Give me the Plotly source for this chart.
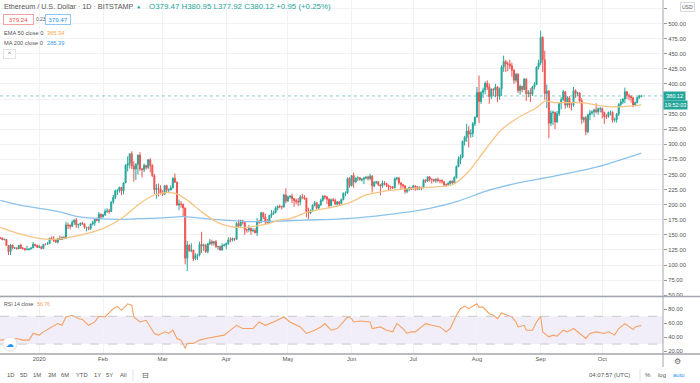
import plotly.graph_objects as go
import pandas as pd

# ---------------- data ----------------
first_date = "2019-12-13"
first_open = 145.0

close = [
    # Dec 2019 (13-31)
    144.8, 141.8, 142.5, 132.5, 122.0, 133.0, 128.3, 128.4, 126.9, 132.6, 127.8, 127.5, 125.3, 125.8, 126.4, 128.3, 134.5, 132.2, 129.2,
    # Jan
    130.7, 127.2, 134.3, 134.2, 135.3, 144.4, 142.9, 140.9, 137.9, 144.2, 142.4, 146.4, 144.0, 166.3, 165.4, 164.0, 170.9, 174.2, 166.6, 166.8,
    169.3, 168.2, 162.1, 162.4, 160.7, 168.0, 170.0, 175.5, 173.8, 184.0, 179.9,
    # Feb
    183.3, 188.6, 189.6, 188.7, 204.6, 212.3, 223.0, 223.1, 228.7, 223.0, 236.0, 265.1, 268.0, 284.3, 264.0, 258.9, 267.0, 282.1, 259.2, 258.0,
    265.2, 261.6, 274.4, 265.1, 248.0, 224.9, 227.0, 226.6, 218.3,
    # Mar
    217.3, 231.5, 224.1, 224.3, 228.1, 243.9, 237.3, 199.5, 201.0, 200.4, 194.6, 111.3, 133.0, 123.6, 124.8, 110.5, 115.6, 117.0, 134.4, 131.9,
    132.4, 122.3, 135.0, 138.4, 136.1, 138.5, 130.6, 130.7, 124.8, 132.2, 133.2,
    # Apr
    135.9, 141.5, 141.3, 143.9, 142.5, 169.0, 164.5, 173.3, 170.6, 158.2, 158.2, 160.9, 156.6, 157.3, 153.5, 171.4, 171.0, 186.6, 179.6, 171.4,
    170.3, 182.1, 184.7, 187.0, 194.3, 197.0, 196.7, 196.2, 216.1, 206.2,
    # May
    212.5, 213.9, 210.0, 206.9, 205.3, 204.3, 212.5, 212.1, 210.8, 188.3, 186.0, 190.2, 199.0, 203.2, 194.2, 199.5, 207.2, 214.0, 213.0, 209.0,
    198.2, 208.0, 207.0, 201.0, 204.5, 201.6, 208.5, 219.0, 219.0, 243.5, 231.5,
    # Jun
    248.0, 237.5, 244.0, 244.5, 241.0, 242.0, 244.0, 245.5, 243.3, 247.0, 231.0, 237.0, 238.0, 233.0, 231.0, 236.0, 235.0, 232.0, 229.0, 229.0,
    228.0, 243.0, 244.0, 236.0, 233.0, 231.0, 222.0, 226.0, 228.0, 226.0,
    # Jul
    231.0, 230.0, 225.5, 229.0, 228.0, 241.0, 239.0, 246.0, 242.0, 242.0, 240.0, 242.0, 240.0, 240.0, 238.0, 233.0, 233.0, 235.0, 239.0, 236.0,
    245.0, 263.0, 275.0, 279.0, 305.0, 311.0, 322.0, 317.0, 318.0, 334.0, 345.0,
    # Aug
    386.0, 371.0, 386.0, 390.0, 401.0, 395.0, 379.0, 391.0, 390.0, 395.0, 380.0, 392.0, 428.0, 437.0, 433.0, 433.0, 430.0, 423.0, 406.0, 416.0,
    389.0, 396.0, 391.0, 408.0, 384.0, 386.0, 383.0, 395.0, 399.0, 428.0, 435.0,
    # Sep
    477.0, 440.0, 384.0, 388.0, 335.0, 352.0, 353.0, 337.0, 351.0, 368.0, 374.0, 387.0, 365.0, 377.0, 365.0, 365.0, 389.0, 384.0, 385.0, 372.0,
    341.0, 344.0, 321.0, 349.0, 352.0, 354.0, 357.0, 354.0, 359.0, 359.0,
    # Oct
    353.0, 346.0, 346.0, 353.0, 353.0, 340.0, 341.0, 350.0, 366.0, 370.0, 375.0, 387.0, 381.0, 379.0, 377.0, 365.0, 369.0, 377.5, 379.47, 380.12,
]

high = [
    146.0, 145.5, 143.5, 142.8, 133.0, 135.0, 133.1, 129.5, 128.7, 133.0, 135.2, 129.5, 127.8, 132.0, 127.9, 129.5, 138.0, 134.7, 133.5,
    132.8, 130.9, 134.5, 135.9, 138.3, 145.0, 147.2, 148.1, 141.8, 144.7, 149.0, 146.5, 147.5, 171.7, 170.0, 167.5, 174.0, 176.0, 178.0, 168.5,
    170.5, 171.4, 168.2, 163.0, 163.5, 168.3, 173.5, 176.3, 178.5, 188.0, 185.5,
    185.0, 193.2, 194.0, 193.0, 205.0, 216.0, 224.7, 226.3, 229.6, 229.0, 237.0, 267.0, 280.0, 285.0, 288.4, 272.0, 268.5, 283.0, 287.0, 261.0,
    268.0, 265.0, 275.0, 277.0, 267.0, 251.0, 234.0, 235.0, 232.0,
    224.0, 232.0, 233.0, 227.0, 232.0, 245.0, 251.5, 238.0, 208.5, 206.0, 202.0, 195.0, 140.0, 134.0, 136.0, 125.0, 119.5, 118.5, 138.8, 155.0,
    135.5, 135.0, 136.5, 143.0, 142.0, 139.6, 141.6, 132.0, 132.0, 136.0, 135.0,
    137.0, 146.0, 146.0, 145.5, 145.0, 171.0, 175.0, 175.0, 174.4, 171.0, 160.0, 166.0, 160.0, 161.0, 161.0, 178.0, 175.0, 188.0, 187.0, 185.0,
    176.0, 183.0, 191.0, 190.0, 197.0, 199.0, 200.0, 198.5, 218.0, 227.0,
    215.0, 216.0, 218.0, 211.0, 210.0, 211.0, 216.0, 218.0, 216.0, 211.0, 195.0, 192.0, 200.5, 206.0, 204.0, 201.0, 210.0, 215.5, 216.0, 214.0,
    210.5, 210.0, 211.0, 210.0, 206.0, 206.0, 210.0, 220.0, 222.0, 245.0, 245.5,
    249.0, 253.0, 245.0, 247.0, 246.0, 244.0, 246.0, 247.0, 248.0, 251.0, 249.0, 239.0, 238.9, 238.5, 233.0, 240.0, 239.0, 236.0, 233.0, 231.0,
    231.0, 245.0, 246.0, 246.0, 237.0, 234.5, 232.0, 227.0, 230.0, 229.5,
    233.0, 232.0, 230.5, 230.0, 229.0, 242.0, 242.0, 247.0, 247.0, 243.0, 242.5, 243.5, 245.0, 241.5, 242.0, 238.5, 235.0, 238.0, 240.0, 240.0,
    247.0, 265.0, 280.0, 283.0, 306.0, 314.0, 334.0, 330.0, 325.0, 337.0, 346.0,
    395.0, 414.0, 388.0, 394.0, 404.0, 406.0, 401.0, 393.0, 393.0, 400.0, 396.0, 394.0, 431.0, 447.0, 440.0, 437.0, 440.0, 435.0, 424.0, 418.0,
    418.0, 399.0, 397.0, 410.0, 409.0, 390.0, 393.0, 397.0, 403.0, 429.0, 440.0,
    488.0, 479.0, 455.0, 399.0, 390.0, 356.0, 356.0, 354.0, 355.0, 370.0, 378.0, 390.0, 388.0, 380.0, 380.0, 369.0, 395.0, 391.0, 387.0, 386.0,
    376.0, 346.0, 347.0, 351.0, 357.0, 356.0, 359.0, 368.0, 361.0, 362.0,
    361.0, 354.0, 350.0, 354.0, 356.0, 355.0, 344.0, 352.0, 368.0, 375.0, 376.0, 394.0, 388.0, 384.0, 381.0, 379.0, 371.0, 379.0, 382.0, 380.95,
]

low = [
    143.5, 141.2, 140.9, 131.5, 116.5, 116.5, 126.0, 126.5, 126.0, 126.5, 126.5, 125.5, 123.7, 124.5, 123.8, 126.2, 127.9, 130.5, 128.4,
    128.8, 126.0, 126.6, 132.5, 133.8, 135.0, 141.0, 137.9, 136.5, 135.5, 142.0, 141.7, 142.6, 143.9, 159.7, 159.0, 162.9, 166.4, 161.7, 161.0,
    164.5, 166.5, 160.0, 155.6, 157.6, 158.0, 165.7, 165.2, 172.5, 170.0, 176.0,
    178.5, 181.0, 186.2, 184.6, 188.0, 201.5, 209.0, 216.0, 220.0, 215.7, 217.0, 236.0, 255.0, 260.0, 259.0, 238.0, 241.0, 250.0, 256.0, 245.0,
    254.0, 258.0, 259.0, 253.6, 246.0, 218.0, 210.0, 213.6, 216.8,
    214.0, 216.0, 221.0, 219.3, 223.9, 226.5, 236.0, 198.0, 191.0, 195.0, 181.0, 101.0, 90.0, 122.0, 121.0, 106.5, 108.0, 108.5, 114.0, 120.0,
    123.0, 120.0, 119.0, 133.0, 132.0, 132.0, 128.0, 125.0, 124.0, 124.0, 130.4,
    126.0, 133.2, 137.5, 139.0, 139.8, 142.1, 163.0, 163.7, 167.0, 150.0, 153.5, 155.0, 150.0, 154.0, 152.5, 148.0, 168.0, 170.0, 176.0, 168.0,
    167.5, 169.6, 178.0, 183.0, 185.5, 190.5, 194.0, 192.0, 195.0, 202.0,
    204.5, 210.0, 203.0, 196.5, 200.5, 197.5, 199.0, 209.0, 208.0, 179.0, 176.0, 184.0, 188.0, 197.0, 192.0, 193.5, 198.0, 205.0, 209.0, 201.0,
    194.0, 197.5, 205.0, 199.5, 198.0, 199.0, 200.5, 207.0, 214.0, 218.0, 228.0,
    230.0, 228.0, 235.5, 239.0, 240.0, 238.0, 234.0, 242.0, 240.0, 240.5, 220.0, 229.0, 234.0, 231.0, 215.0, 228.0, 232.0, 229.0, 223.0, 225.0,
    226.0, 227.0, 240.0, 233.0, 226.0, 227.0, 218.0, 219.0, 222.0, 224.0,
    225.0, 223.0, 224.0, 225.0, 224.0, 227.0, 236.0, 238.0, 238.0, 235.0, 237.0, 236.0, 237.0, 235.0, 235.0, 229.0, 230.0, 232.0, 233.0, 234.5,
    235.0, 243.0, 262.0, 267.0, 277.0, 298.0, 304.0, 295.0, 311.0, 312.0, 330.0,
    345.0, 335.0, 367.0, 377.0, 383.0, 390.0, 367.0, 375.0, 380.0, 378.0, 370.0, 374.0, 380.0, 420.0, 420.0, 421.0, 425.0, 412.0, 400.0, 402.0,
    385.0, 382.0, 386.0, 390.0, 372.0, 378.0, 370.0, 380.0, 391.0, 398.0, 424.0,
    431.0, 420.0, 374.0, 360.0, 310.0, 330.0, 332.0, 325.0, 335.0, 347.0, 358.0, 372.0, 359.0, 361.0, 360.0, 356.0, 362.0, 377.0, 380.0, 368.0,
    334.0, 336.0, 315.0, 318.0, 340.0, 349.0, 345.0, 351.0, 349.0, 353.0,
    343.0, 334.0, 342.0, 344.0, 348.0, 336.0, 337.0, 336.0, 347.0, 362.0, 367.0, 368.0, 375.0, 373.0, 369.0, 361.0, 363.0, 368.0, 375.0, 377.92,
]

ema_dates = ["2019-12-13", "2019-12-22", "2020-01-01", "2020-01-06", "2020-01-14", "2020-01-24", "2020-02-02", "2020-02-10",
             "2020-02-19", "2020-02-26", "2020-03-03", "2020-03-08", "2020-03-14", "2020-03-20", "2020-03-27", "2020-04-02",
             "2020-04-09", "2020-04-15", "2020-04-22", "2020-04-27", "2020-05-02", "2020-05-11", "2020-05-22", "2020-05-30",
             "2020-06-08", "2020-06-16", "2020-06-26", "2020-07-09", "2020-07-20", "2020-07-28", "2020-08-05", "2020-08-13",
             "2020-08-21", "2020-08-30", "2020-09-03", "2020-09-08", "2020-09-21", "2020-09-29", "2020-10-08", "2020-10-20"]
ema_vals = [162.3, 152.0, 144.0, 142.4, 145.0, 152.0, 162.0, 177.0, 202.0, 216.0, 220.0, 218.0, 205.0, 188.0, 172.0, 164.5,
            162.0, 164.5, 169.0, 174.5, 177.0, 188.0, 195.6, 202.0, 216.0, 221.7, 225.6, 229.0, 233.0, 255.0, 291.0, 324.5,
            344.0, 360.6, 371.7, 369.0, 369.0, 364.5, 362.0, 365.34]

ma_dates = ["2019-12-13", "2019-12-22", "2020-01-01", "2020-01-11", "2020-01-20", "2020-01-30", "2020-02-09", "2020-02-19",
            "2020-03-01", "2020-03-11", "2020-03-26", "2020-04-11", "2020-04-27", "2020-05-09", "2020-05-25", "2020-06-10",
            "2020-06-26", "2020-07-09", "2020-07-23", "2020-08-05", "2020-08-21", "2020-09-07", "2020-09-29", "2020-10-20"]
ma_vals = [207.0, 199.5, 194.0, 188.0, 180.0, 176.7, 175.6, 176.7, 178.0, 180.0, 175.6, 172.0, 172.8, 174.5, 176.0, 180.0,
           186.7, 194.0, 206.0, 222.0, 236.0, 247.0, 263.0, 285.39]

rsi_dates = ["2019-12-13", "2019-12-21", "2019-12-24", "2019-12-27", "2019-12-29", "2020-01-01", "2020-01-03", "2020-01-06",
             "2020-01-10", "2020-01-12", "2020-01-14", "2020-01-17", "2020-01-20", "2020-01-22", "2020-01-25", "2020-01-28",
             "2020-01-30", "2020-02-02", "2020-02-06", "2020-02-08", "2020-02-10", "2020-02-13", "2020-02-15", "2020-02-16",
             "2020-02-19", "2020-02-22", "2020-02-24", "2020-02-26", "2020-02-28", "2020-03-02", "2020-03-04", "2020-03-06",
             "2020-03-08", "2020-03-10", "2020-03-12", "2020-03-13", "2020-03-16", "2020-03-19", "2020-03-22", "2020-03-26",
             "2020-03-31", "2020-04-02", "2020-04-06", "2020-04-09", "2020-04-14", "2020-04-17", "2020-04-20", "2020-04-24",
             "2020-04-29", "2020-05-02", "2020-05-07", "2020-05-10", "2020-05-14", "2020-05-17", "2020-05-19", "2020-05-22",
             "2020-05-25", "2020-05-28", "2020-05-30", "2020-06-01", "2020-06-02", "2020-06-05", "2020-06-10", "2020-06-11",
             "2020-06-15", "2020-06-18", "2020-06-21", "2020-06-23", "2020-06-26", "2020-06-28", "2020-06-30", "2020-07-02",
             "2020-07-04", "2020-07-07", "2020-07-10", "2020-07-14", "2020-07-17", "2020-07-19", "2020-07-22", "2020-07-24",
             "2020-07-26", "2020-07-28", "2020-08-01", "2020-08-02", "2020-08-04", "2020-08-07", "2020-08-09", "2020-08-11",
             "2020-08-13", "2020-08-16", "2020-08-18", "2020-08-20", "2020-08-21", "2020-08-24", "2020-08-25", "2020-08-28",
             "2020-08-30", "2020-09-01", "2020-09-02", "2020-09-05", "2020-09-07", "2020-09-09", "2020-09-12", "2020-09-14",
             "2020-09-17", "2020-09-20", "2020-09-23", "2020-09-25", "2020-09-28", "2020-10-02", "2020-10-04", "2020-10-07",
             "2020-10-09", "2020-10-12", "2020-10-14", "2020-10-16", "2020-10-17", "2020-10-20"]
rsi_vals = [35.7, 38.0, 35.7, 35.7, 45.3, 43.0, 47.6, 52.4, 59.5, 57.0, 69.0, 71.4, 66.7, 65.3, 57.0, 61.9,
            70.0, 69.0, 81.0, 84.3, 78.6, 88.0, 85.7, 69.0, 61.9, 64.3, 54.7, 45.3, 42.9, 47.6, 45.3, 50.0,
            38.1, 35.7, 23.9, 31.0, 31.0, 35.7, 38.1, 40.4, 42.9, 47.6, 57.0, 52.4, 52.4, 61.9, 57.0, 61.9,
            69.0, 61.9, 54.7, 45.3, 50.0, 54.7, 59.5, 50.0, 52.4, 61.9, 69.0, 66.7, 61.9, 63.3, 61.9, 52.4,
            54.7, 50.0, 47.6, 59.5, 52.4, 45.3, 47.6, 47.6, 52.4, 59.5, 57.0, 54.7, 47.6, 52.4, 71.4, 81.0,
            84.8, 81.0, 88.1, 83.3, 83.3, 73.8, 71.4, 66.7, 74.8, 71.4, 69.0, 61.9, 54.7, 57.0, 50.0, 50.0,
            61.9, 70.0, 47.6, 40.4, 42.9, 41.4, 50.0, 47.6, 52.4, 45.3, 38.1, 45.3, 47.6, 45.3, 47.6, 42.9,
            52.4, 59.5, 55.7, 51.0, 54.7, 56.76]

month_ticks = ["2020-01-01", "2020-02-01", "2020-03-01", "2020-04-01", "2020-05-01", "2020-06-01",
               "2020-07-01", "2020-08-01", "2020-09-01", "2020-10-01"]
month_labels = ["2020", "Feb", "Mar", "Apr", "May", "Jun", "Jul", "Aug", "Sep", "Oct"]
price_ticks = list(range(50, 526, 25))
hidden_price_labels = [375, 525]      # covered by the price tag / currency box
rsi_ticks = [20, 40, 60, 80]
toolbar_left = ["1D", "5D", "1M", "3M", "6M", "YTD", "1Y", "5Y", "All"]

assert len(close) == len(high) == len(low)
assert len(rsi_dates) == len(rsi_vals)
assert len(ema_dates) == len(ema_vals)
assert len(ma_dates) == len(ma_vals)

dates = pd.date_range(first_date, periods=len(close), freq="D")
opens = [first_open] + close[:-1]
high = [max(h, o, c) for h, o, c in zip(high, opens, close)]
low = [min(l, o, c) for l, o, c in zip(low, opens, close)]

# ---------------- style ----------------
UP = "#26a69a"
DOWN = "#ef5350"
GRID = "#f0f2f5"
TXT = "#555555"
FONT = "Liberation Sans, Arial, sans-serif"
W, PW, PH = 700, 663, 354   # figure width, plot width, plot height (px)


def px(x):
    return x / PW


def py(y):
    return (PH - y) / PH


fig = go.Figure()
fig.add_trace(go.Candlestick(
    x=dates, open=opens, high=high, low=low, close=close,
    increasing=dict(line=dict(color=UP, width=1), fillcolor=UP),
    decreasing=dict(line=dict(color=DOWN, width=1), fillcolor=DOWN),
    whiskerwidth=0, showlegend=False, hoverinfo="skip", xaxis="x", yaxis="y"))
fig.add_trace(go.Scatter(x=pd.to_datetime(ma_dates), y=ma_vals, mode="lines",
                         line=dict(color="#8dc3ea", width=1.3, shape="spline", smoothing=0.8),
                         showlegend=False, hoverinfo="skip", xaxis="x", yaxis="y"))
fig.add_trace(go.Scatter(x=pd.to_datetime(ema_dates), y=ema_vals, mode="lines",
                         line=dict(color="#f7c484", width=1.3, shape="spline", smoothing=0.8),
                         showlegend=False, hoverinfo="skip", xaxis="x", yaxis="y"))
fig.add_trace(go.Scatter(x=pd.to_datetime(rsi_dates), y=rsi_vals, mode="lines",
                         line=dict(color="#f5a162", width=1.1),
                         showlegend=False, hoverinfo="skip", xaxis="x2", yaxis="y2"))

xr = ["2019-12-12 20:53", "2020-10-30 13:12"]
main_bottom = (PH - 296.5) / PH
rsi_top = (PH - 297.5) / PH

price_text = ["" if v in hidden_price_labels else f"{v:.2f}" for v in price_ticks]

axis_common = dict(showline=False, zeroline=False, gridcolor=GRID, gridwidth=1)
fig.update_layout(
    width=W, height=383,
    margin=dict(l=0, r=W - PW, t=0, b=383 - PH),
    paper_bgcolor="white", plot_bgcolor="white",
    font=dict(family=FONT, size=6, color=TXT),
    xaxis=dict(domain=[0, 1], anchor="y", range=xr, rangeslider=dict(visible=False),
               tickvals=month_ticks, showticklabels=False, showgrid=True, ticks="", **axis_common),
    xaxis2=dict(domain=[0, 1], anchor="y2", range=xr, matches="x",
                tickvals=month_ticks, ticktext=month_labels, showgrid=True, ticks="",
                tickfont=dict(size=5.8, color=TXT), **axis_common),
    yaxis=dict(domain=[main_bottom, 1], anchor="x", side="right", range=[47.8, 539.1],
               tickvals=price_ticks, ticktext=price_text, showgrid=True, ticks="outside", ticklen=3,
               tickcolor="#9a9a9a", tickfont=dict(size=5.8, color=TXT), **axis_common),
    yaxis2=dict(domain=[0, rsi_top], anchor="x2", side="right", range=[15.7, 97.1],
                tickvals=rsi_ticks, tickformat=".2f", showgrid=False, ticks="outside", ticklen=3,
                tickcolor="#9a9a9a", tickfont=dict(size=5.8, color=TXT), **axis_common),
)

shapes = [
    # RSI band
    dict(type="rect", xref="paper", yref="y2", x0=0, x1=1, y0=30, y1=70,
         fillcolor="rgba(126,87,194,0.10)", line=dict(width=0), layer="below"),
    dict(type="line", xref="paper", yref="y2", x0=0, x1=1, y0=70, y1=70,
         line=dict(color="#c9c9c9", width=1, dash="dash")),
    dict(type="line", xref="paper", yref="y2", x0=0, x1=1, y0=30, y1=30,
         line=dict(color="#c9c9c9", width=1, dash="dash")),
    # current price dotted line
    dict(type="line", xref="paper", yref="y", x0=0, x1=1, y0=close[-1], y1=close[-1],
         line=dict(color="rgba(38,166,154,0.55)", width=1, dash="dot")),
    # pane separators
    dict(type="line", xref="paper", yref="paper", x0=0, x1=W / PW, y0=py(296.5), y1=py(296.5),
         line=dict(color="#a3a6ad", width=1.5)),
    dict(type="line", xref="paper", yref="paper", x0=0, x1=W / PW, y0=py(354), y1=py(354),
         line=dict(color="#a3a6ad", width=1.5)),
    # right axis line
    dict(type="line", xref="paper", yref="paper", x0=1, x1=1, y0=py(367), y1=1,
         line=dict(color="#a3a6ad", width=1)),
    # toolbar separators
    dict(type="line", xref="paper", yref="paper", x0=px(133), x1=px(133), y0=py(369), y1=py(381),
         line=dict(color="#e0e3eb", width=1)),
    dict(type="line", xref="paper", yref="paper", x0=px(640), x1=px(640), y0=py(369), y1=py(381),
         line=dict(color="#e0e3eb", width=1)),
    # cloud icon circle
    dict(type="circle", xref="paper", yref="paper", x0=px(3), x1=px(17), y0=py(351), y1=py(337),
         fillcolor="white", line=dict(color="#e0e3eb", width=1)),
]
fig.update_layout(shapes=shapes)


def ann(x, y, text, color=TXT, size=6, xanchor="left", **kw):
    fam = kw.pop("family", FONT)
    return dict(xref="paper", yref="paper", x=px(x), y=py(y), text=text, showarrow=False,
                xanchor=xanchor, yanchor="middle", font=dict(size=size, color=color, family=fam), **kw)


anns = [
    ann(2, 7, "Ethereum / U.S. Dollar · 1D · BITSTAMP", TXT, 7.2),
    ann(138, 7, "●", UP, 5.5, xanchor="center"),
    ann(147, 7, "O379.47 H380.95 L377.92 C380.12 +0.95 (+0.25%)", UP, 7.9),
    ann(3, 19.5, "379.24", DOWN, 6.2, bordercolor="#f3a3a3", borderwidth=1, borderpad=1, bgcolor="white",
        width=27, height=7),
    ann(34, 19.5, "0.23", TXT, 4.8),
    ann(45, 19.5, "379.47", "#2196f3", 6.2, bordercolor="#90c6f5", borderwidth=1, borderpad=1, bgcolor="white",
        width=22, height=7),
    ann(2, 33, "EMA 50 close 0", TXT, 5.7),
    ann(45, 33, "365.34", "#f5a33c", 5.7),
    ann(2, 43, "MA 200 close 0", TXT, 5.7),
    ann(45, 43, "285.39", "#3d9be0", 5.7),
    ann(3, 54, "^", TXT, 6, bordercolor="#e0e3eb", borderwidth=1, borderpad=1, bgcolor="white",
        width=9, height=6),
    ann(2, 304, "RSI 14 close", TXT, 5.2),
    ann(35, 304, "56.76", "#f5a162", 5.2),
    ann(10, 344, "☁", "#2196f3", 8, xanchor="center", family="DejaVu Sans"),
    # right axis labels
    dict(xref="paper", yref="y", x=1, y=close[-1], text="380.12", showarrow=False, xanchor="left",
         yanchor="middle", bgcolor=UP, borderpad=0.5, font=dict(size=5.6, color="white", family=FONT),
         width=20, height=7),
    dict(xref="paper", yref="y", x=1, y=close[-1], text="19:52:03", showarrow=False, xanchor="left",
         yanchor="top", bgcolor=UP, borderpad=0.5, font=dict(size=5.6, color="white", family=FONT),
         width=22, height=7, yshift=-4.2),
    ann(680, 7, "USD", TXT, 5, bordercolor="#d6d9e0", borderwidth=1, borderpad=1, bgcolor="white"),
    ann(677, 361, "⚙", "#666666", 8, xanchor="center", family="DejaVu Sans"),
    # bottom toolbar
    ann(609, 375, "04:07:57 (UTC)", TXT, 6, xanchor="center"),
    ann(648, 375, "%", TXT, 6, xanchor="center"),
    ann(662, 375, "log", TXT, 6, xanchor="center"),
    ann(679, 375, "auto", "#2196f3", 6, xanchor="center"),
    ann(145, 375, "⊟", TXT, 8, xanchor="center", family="DejaVu Sans"),
]
for lab, xc in zip(toolbar_left, [10, 23, 37, 52, 65, 82, 97, 109, 123]):
    anns.append(ann(xc, 375, lab, TXT, 5.8, xanchor="center"))
fig.update_layout(annotations=anns)

fig.write_html("out.html", config={"displayModeBar": False},
               post_script="document.body.style.margin='0';document.body.style.overflow='hidden';")
